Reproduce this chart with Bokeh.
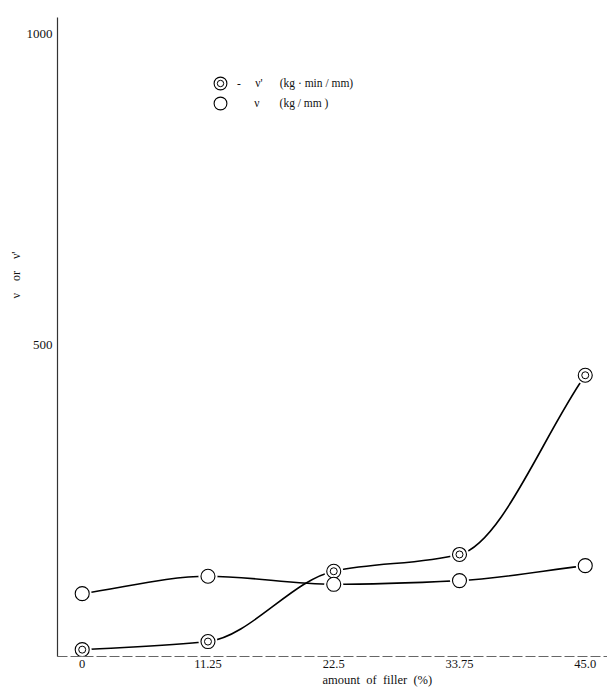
from bokeh.plotting import figure
from bokeh.models import Range1d, FixedTicker, Legend, LegendItem, Title
from bokeh.embed import file_html
from bokeh.resources import INLINE

# amount of filler (%)
filler_pct = [0, 11.25, 22.5, 33.75, 45.0]
x_tick_labels = ["0", "11.25", "22.5", "33.75", "45.0"]

# nu' (kg·min/mm) and nu (kg/mm)
nu_prime = [11, 24, 137, 164, 452]
nu = [101, 129, 116, 122, 146]

y_ticks = [500, 1000]

SERIF = "Liberation Serif"


def smooth_segments(xs, ys):
    """Monotone cubic (Fritsch-Carlson) segments as Bezier control points."""
    n = len(xs)
    d = [(ys[i + 1] - ys[i]) / (xs[i + 1] - xs[i]) for i in range(n - 1)]
    m = [0.0] * n
    m[0], m[-1] = d[0], d[-1]
    for i in range(1, n - 1):
        if d[i - 1] * d[i] <= 0:
            m[i] = 0.0
        else:
            m[i] = 2.0 / (1.0 / d[i - 1] + 1.0 / d[i])
    seg = dict(x0=[], y0=[], x1=[], y1=[], cx0=[], cy0=[], cx1=[], cy1=[])
    for i in range(n - 1):
        h = xs[i + 1] - xs[i]
        seg["x0"].append(xs[i]); seg["y0"].append(ys[i])
        seg["x1"].append(xs[i + 1]); seg["y1"].append(ys[i + 1])
        seg["cx0"].append(xs[i] + h / 3); seg["cy0"].append(ys[i] + m[i] * h / 3)
        seg["cx1"].append(xs[i + 1] - h / 3); seg["cy1"].append(ys[i + 1] - m[i + 1] * h / 3)
    return seg


p = figure(
    width=607, height=689,
    output_backend="svg", toolbar_location=None,
    x_range=Range1d(-2.21, 46.99), y_range=Range1d(0, 1027),
    min_border_left=57, min_border_right=0, min_border_top=17, min_border_bottom=33,
    outline_line_color=None, background_fill_color="white", border_fill_color="white",
)
p.grid.visible = False

# connecting curves
for ys in (nu_prime, nu):
    p.bezier(line_color="black", line_width=1.6, **smooth_segments(filler_pct, ys))

# white halos so the curves stop just short of the markers
for ys in (nu_prime, nu):
    p.scatter(filler_pct, ys, marker="circle", size=19, fill_color="white", line_color=None)

# markers: double ring for nu', single ring for nu
outer_p = p.ellipse(filler_pct, nu_prime, width=14, height=14,
                    width_units="screen", height_units="screen",
                    fill_color="white", line_color="black", line_width=1.1)
inner_p = p.scatter(filler_pct, nu_prime, marker="circle", size=7,
                    fill_color="white", line_color="black", line_width=1.0)
single = p.ellipse(filler_pct, nu, width=14, height=14,
                   width_units="screen", height_units="screen",
                   fill_color="white", line_color="black", line_width=1.1)

nb = "\u00a0"
legend = Legend(
    items=[
        LegendItem(label="-" + nb * 5 + "ν'" + nb * 6 + "(kg · min / mm)", renderers=[outer_p, inner_p]),
        LegendItem(label=nb * 6 + "ν" + nb * 7 + "(kg / mm )", renderers=[single]),
    ],
    location=(155, 545),
    glyph_width=16, glyph_height=16, label_height=16,
    label_standoff=9, spacing=4, padding=0, margin=0,
    border_line_color=None, background_fill_alpha=0,
    label_text_font=SERIF, label_text_font_size="11.5px", label_text_color="#111",
)
p.add_layout(legend)

# axes
xa = p.xaxis[0]
xa.ticker = FixedTicker(ticks=filler_pct)
xa.major_label_overrides = dict(zip(filler_pct, x_tick_labels))
xa.major_label_text_font = SERIF
xa.major_label_text_font_size = "12.5px"
xa.major_label_text_color = "#111"
xa.major_label_standoff = 3
xa.major_tick_out = 0
xa.major_tick_in = 0
xa.minor_tick_line_color = None
xa.axis_line_color = "#666"
xa.axis_line_width = 1.2
xa.axis_line_dash = "10 3"

ya = p.yaxis[0]
ya.ticker = FixedTicker(ticks=y_ticks)
ya.major_label_text_font = SERIF
ya.major_label_text_font_size = "13px"
ya.major_label_text_color = "#111"
ya.major_label_standoff = 5
ya.major_tick_out = 0
ya.major_tick_in = 0
ya.minor_tick_line_color = None
ya.axis_line_color = "#333"
ya.axis_line_width = 1.2

# axis titles
p.add_layout(Title(text="ν" + nb * 4 + "or" + nb * 4 + "ν'", align="left", offset=358,
                   text_font=SERIF, text_font_size="12px", text_font_style="normal",
                   text_color="#111", standoff=2), "left")
p.add_layout(Title(text="amount" + nb * 2 + "of" + nb * 2 + "filler" + nb * 2 + "(%)",
                   align="left", offset=265,
                   text_font=SERIF, text_font_size="12.5px", text_font_style="normal",
                   text_color="#111", standoff=0), "below")

open("out.html", "w").write(file_html(p, INLINE))
